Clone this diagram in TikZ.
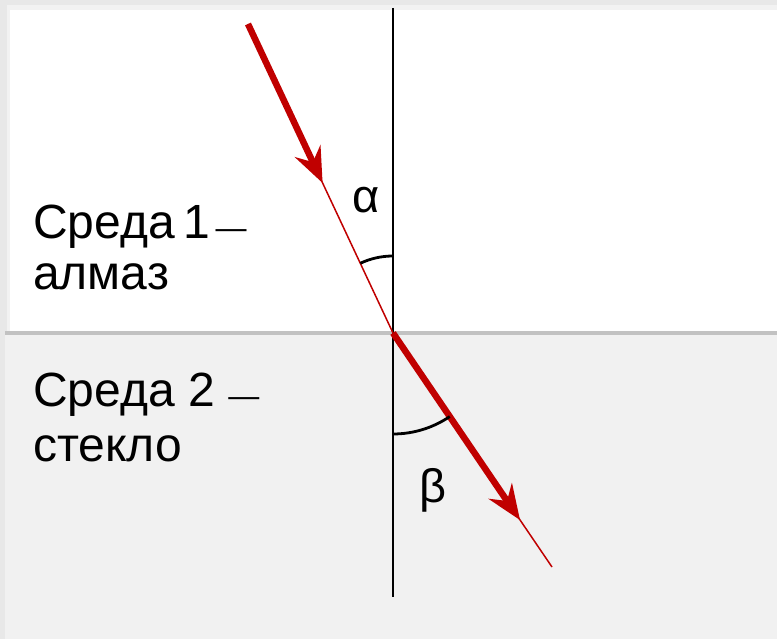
\documentclass[tikz,border=0pt]{standalone}
\usepackage{fontspec}
\setmainfont{Liberation Sans}
\usetikzlibrary{arrows.meta}
\definecolor{ray}{HTML}{C00000}
\definecolor{outerbg}{HTML}{E8E8E8}
\definecolor{frameg}{HTML}{F2F2F2}
\definecolor{lowbg}{HTML}{F1F1F1}
\definecolor{sepg}{HTML}{C2C2C2}
\tikzset{
  lbl/.style={inner sep=0pt, anchor=base west, font=\fontsize{48}{52}\selectfont},
  greek/.style={inner sep=0pt, font=\fontsize{47}{50}\selectfont},
  thickray/.style={draw=ray, line width=6.5pt, -{Stealth[length=35pt, width=28pt, inset=12pt]}},
  thinray/.style={draw=ray, line width=1.5pt},
  normal/.style={draw=black, line width=1.6pt},
  anglearc/.style={draw=black, line width=2.8pt}
}
\newcommand{\shortdash}{{\fontsize{31}{31}\selectfont —}}
\begin{document}
\begin{tikzpicture}[x=1pt, y=-1pt]
  \useasboundingbox (0,0) rectangle (777,639);
  % backgrounds
  \fill[outerbg] (0,0) rectangle (777,639);
  \fill[frameg] (7,5) rectangle (777,331);
  \fill[white] (10,10) rectangle (777,331);
  \fill[sepg] (5,331) rectangle (777,335);
  \fill[lowbg] (5,335) rectangle (777,639);
  % normal
  \coordinate (ntop) at (393,8);
  \coordinate (nbot) at (393,597);
  \coordinate (O) at (393,333);
  \draw[normal] (ntop) -- (nbot);
  % incident ray
  \coordinate (istart) at (248,24);
  \coordinate (itip) at (322.6,183);
  \draw[thinray] (istart) -- (O);
  \draw[thickray] (istart) -- (itip);
  % refracted ray
  \coordinate (rtip) at (520,520);
  \coordinate (rend) at (552,567);
  \draw[thinray] (O) -- (rend);
  \draw[thickray] (O) -- (rtip);
  % angle arcs
  \draw[anglearc] (O) ++(244.9:77) arc[start angle=244.9, end angle=270, radius=77];
  \draw[anglearc] (O) ++(55.8:101) arc[start angle=55.8, end angle=90, radius=101];
  % labels
  \node[greek] (alpha) at (366,200) {α};
  \node[greek] (beta) at (433,490) {β};
  \node[lbl] (m1a) at (33,239) {Среда\hspace{9pt}1\hspace{5pt}\shortdash};
  \node[lbl] (m1b) at (33,290) {алмаз};
  \node[lbl] (m2a) at (33,406) {Среда 2 \shortdash};
  \node[lbl] (m2b) at (33,461) {стекло};
\end{tikzpicture}
\end{document}
